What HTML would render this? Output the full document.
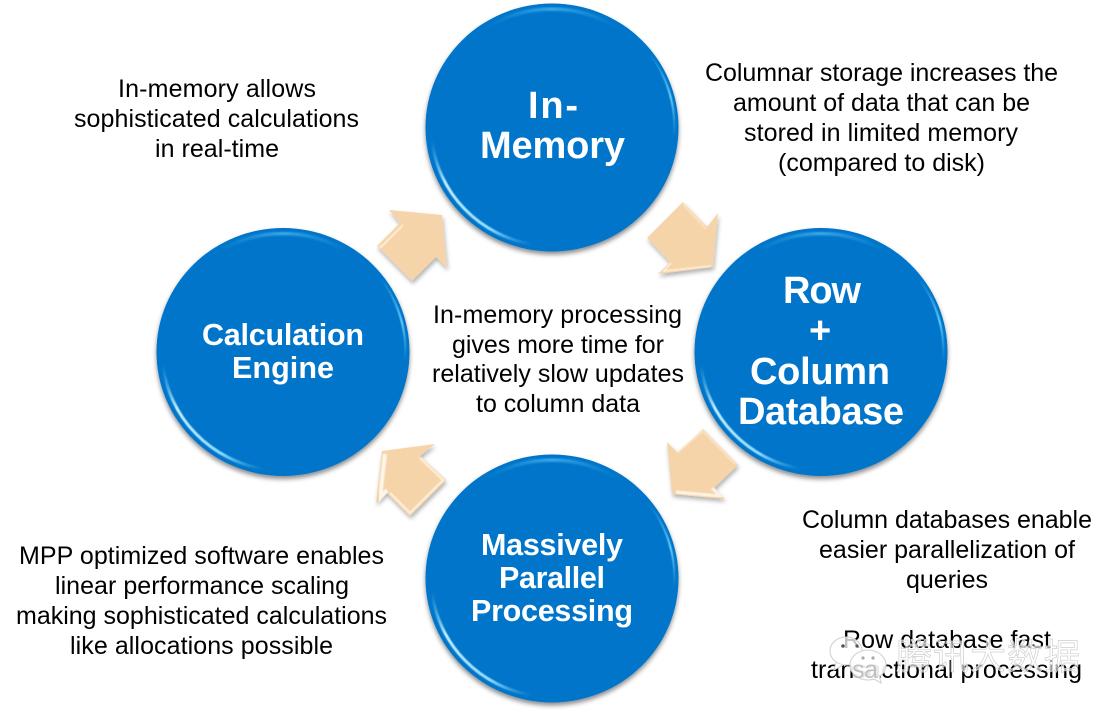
<!DOCTYPE html>
<html>
<head>
<meta charset="utf-8">
<style>
html,body{margin:0;padding:0;background:#fff;width:1113px;height:715px;overflow:hidden}
svg{display:block}
text{font-family:"Liberation Sans",sans-serif}
.t{font-size:25px;fill:#000}
.h{font-weight:bold;fill:#fff;text-anchor:start}
.h37{font-size:38px}
.h30{font-size:30.5px}
</style>
</head>
<body>
<svg width="1113" height="715" viewBox="0 0 1113 715" xmlns="http://www.w3.org/2000/svg">
<defs>
<filter id="cs" x="-10%" y="-10%" width="120%" height="125%"><feDropShadow dx="0" dy="3" stdDeviation="2.5" flood-color="#000" flood-opacity=".45"/></filter>
<filter id="as" x="-20%" y="-20%" width="150%" height="150%"><feDropShadow dx="1" dy="3" stdDeviation="2" flood-color="#000" flood-opacity=".3"/></filter>
<filter id="b1"><feGaussianBlur stdDeviation="1.1"/></filter>
<filter id="b2"><feGaussianBlur stdDeviation=".6"/></filter>
<linearGradient id="g1" gradientUnits="userSpaceOnUse" x1="-120" y1="13" x2="-19" y2="117">
<stop offset="0" stop-color="#6fd0ff" stop-opacity="0"/><stop offset=".28" stop-color="#c4f0ff"/><stop offset=".72" stop-color="#8fdcff"/><stop offset="1" stop-color="#4db8f0" stop-opacity="0"/>
</linearGradient>
<linearGradient id="g2" gradientUnits="userSpaceOnUse" x1="-65" y1="0" x2="65" y2="0">
<stop offset="0" stop-color="#3aa8ea" stop-opacity="0"/><stop offset=".5" stop-color="#46b2f0"/><stop offset="1" stop-color="#3aa8ea" stop-opacity="0"/>
</linearGradient>
<linearGradient id="g3" gradientUnits="userSpaceOnUse" x1="98" y1="-75" x2="122" y2="10">
<stop offset="0" stop-color="#55c0f5" stop-opacity="0"/><stop offset=".55" stop-color="#70d4ff"/><stop offset="1" stop-color="#55c0f5" stop-opacity="0"/>
</linearGradient>
<g id="disc">
<ellipse cx="0" cy="0" rx="126.5" ry="124" fill="#0474c9" filter="url(#cs)"/>
<path d="M-120 13 A121.5 119 0 0 0 -19 117" fill="none" stroke="url(#g1)" stroke-width="3" filter="url(#b2)"/>
<path d="M-65 -100 A121 118.5 0 0 1 65 -100" fill="none" stroke="url(#g2)" stroke-width="3" filter="url(#b1)"/>
<path d="M98 -73 A122.5 120 0 0 1 122 8" fill="none" stroke="url(#g3)" stroke-width="2" filter="url(#b2)"/>
</g>
</defs>

<rect width="1113" height="715" fill="#fff"/>

<use href="#disc" x="552" y="127.5"/>
<use href="#disc" x="821" y="352"/>
<use href="#disc" x="552" y="578.5"/>
<use href="#disc" x="283" y="352"/>

<!-- arrows -->
<g>
<polygon points="389,210 442,215 447,268 436,257 412,281 377,246 400,223" fill="#f5d4aa" filter="url(#as)"/>
<polyline points="379,246 381,247 403,225" fill="none" stroke="#fff1dc" stroke-width="1.6" filter="url(#b2)"/>

<polygon points="683,202 707,227 718,213 713,267 658,274 670,262 647,238" fill="#f5d4aa" filter="url(#as)"/>
<polyline points="683,204 706,229" fill="none" stroke="#fbe6ca" stroke-width="1.6" filter="url(#b2)"/>
<polyline points="711,266 664,271 671,263" fill="none" stroke="#fff1dc" stroke-width="1.6" filter="url(#b2)"/>

<polygon points="703,429 738,465 714,488 725,499 672,494 667,442 678,453" fill="#f5d4aa" filter="url(#as)"/>
<polyline points="678,452 703,431 735,464" fill="none" stroke="#fbe6ca" stroke-width="1.6" filter="url(#b2)"/>
<polyline points="676,492 720,496 712,488" fill="none" stroke="#fff4e4" stroke-width="3" filter="url(#b2)"/>

<polygon points="435,444 420,456 446,480 410,516 387,493 376,503 382,451" fill="#f5d4aa" filter="url(#as)"/>
<polyline points="385,454 380,498 387,490" fill="none" stroke="#fff6ea" stroke-width="4" filter="url(#b2)"/>
<polyline points="420,458 443,480 410,513 390,493" fill="none" stroke="#fff1dc" stroke-width="2" filter="url(#b2)"/>
</g>

<!-- circle labels -->
<text class="h h37" x="528" y="118" textLength="50" lengthAdjust="spacing">In-</text>
<text class="h h37" x="480" y="158" textLength="145" lengthAdjust="spacing">Memory</text>

<text class="h h37" x="783" y="303" textLength="78" lengthAdjust="spacing">Row</text>
<text class="h h37" x="809" y="343" textLength="22" lengthAdjust="spacing">+</text>
<text class="h h37" x="750" y="384" textLength="140" lengthAdjust="spacing">Column</text>
<text class="h h37" x="738" y="424" textLength="166" lengthAdjust="spacing">Database</text>

<text class="h h30" x="202" y="345" textLength="162" lengthAdjust="spacing">Calculation</text>
<text class="h h30" x="232" y="378" textLength="102" lengthAdjust="spacing">Engine</text>

<text class="h h30" x="481" y="555" textLength="142" lengthAdjust="spacing">Massively</text>
<text class="h h30" x="499" y="588" textLength="106" lengthAdjust="spacing">Parallel</text>
<text class="h h30" x="471" y="621" textLength="162" lengthAdjust="spacing">Processing</text>

<!-- body text -->
<text class="t" x="118" y="97" textLength="198" lengthAdjust="spacing">In-memory allows</text>
<text class="t" x="74" y="127" textLength="285" lengthAdjust="spacing">sophisticated calculations</text>
<text class="t" x="155" y="157" textLength="124" lengthAdjust="spacing">in real-time</text>

<text class="t" x="705" y="81" textLength="353" lengthAdjust="spacing">Columnar storage increases the</text>
<text class="t" x="733" y="111" textLength="297" lengthAdjust="spacing">amount of data that can be</text>
<text class="t" x="744" y="141" textLength="274" lengthAdjust="spacing">stored in limited memory</text>
<text class="t" x="778" y="171" textLength="207" lengthAdjust="spacing">(compared to disk)</text>

<text class="t" x="433" y="323" textLength="249" lengthAdjust="spacing">In-memory processing</text>
<text class="t" x="452" y="353" textLength="212" lengthAdjust="spacing">gives more time for</text>
<text class="t" x="432" y="382" textLength="252" lengthAdjust="spacing">relatively slow updates</text>
<text class="t" x="476" y="412" textLength="164" lengthAdjust="spacing">to column data</text>

<text class="t" x="19" y="564" textLength="365" lengthAdjust="spacing">MPP optimized software enables</text>
<text class="t" x="55" y="594" textLength="294" lengthAdjust="spacing">linear performance scaling</text>
<text class="t" x="16" y="624" textLength="371" lengthAdjust="spacing">making sophisticated calculations</text>
<text class="t" x="70" y="654" textLength="263" lengthAdjust="spacing">like allocations possible</text>

<text class="t" x="802" y="528" textLength="290" lengthAdjust="spacing">Column databases enable</text>
<text class="t" x="819" y="558" textLength="256" lengthAdjust="spacing">easier parallelization of</text>
<text class="t" x="906" y="588" textLength="82" lengthAdjust="spacing">queries</text>
<text class="t" x="843" y="648" textLength="208" lengthAdjust="spacing">Row database fast</text>
<text class="t" x="811" y="678" textLength="271" lengthAdjust="spacing">transactional processing</text>

<!-- watermark -->
<g>
<text x="896" y="669" font-size="36" style='font-family:"Liberation Sans","Noto Sans CJK SC",sans-serif' fill="#fff" fill-opacity=".6" stroke="#d0d0d0" stroke-width=".7" textLength="184" lengthAdjust="spacing">腾讯大数据</text>
<ellipse cx="846" cy="651" rx="16" ry="14" fill="#fff" fill-opacity=".75" stroke="#d2d2d2" stroke-width="1.1"/>
<path d="M836 663 L834 670 L843 665" fill="#fff" stroke="#d2d2d2" stroke-width="1.1"/>
<ellipse cx="868" cy="665" rx="18" ry="15" fill="#fff" fill-opacity=".9" stroke="#d2d2d2" stroke-width="1.1"/>
<path d="M874 679 L881 683 L879 675" fill="#fff" stroke="#d2d2d2" stroke-width="1.1"/>
<circle cx="843" cy="646" r="1.8" fill="#555"/>
<circle cx="857" cy="646" r="1.6" fill="#555"/>
<circle cx="863" cy="658" r="1.6" fill="#aaa"/>
<circle cx="873" cy="658" r="1.6" fill="#aaa"/>
<text x="852" y="678" font-size="25" fill="#c0c0c0" textLength="26" lengthAdjust="spacing">sa</text>
</g>
</svg>
</body>
</html>
